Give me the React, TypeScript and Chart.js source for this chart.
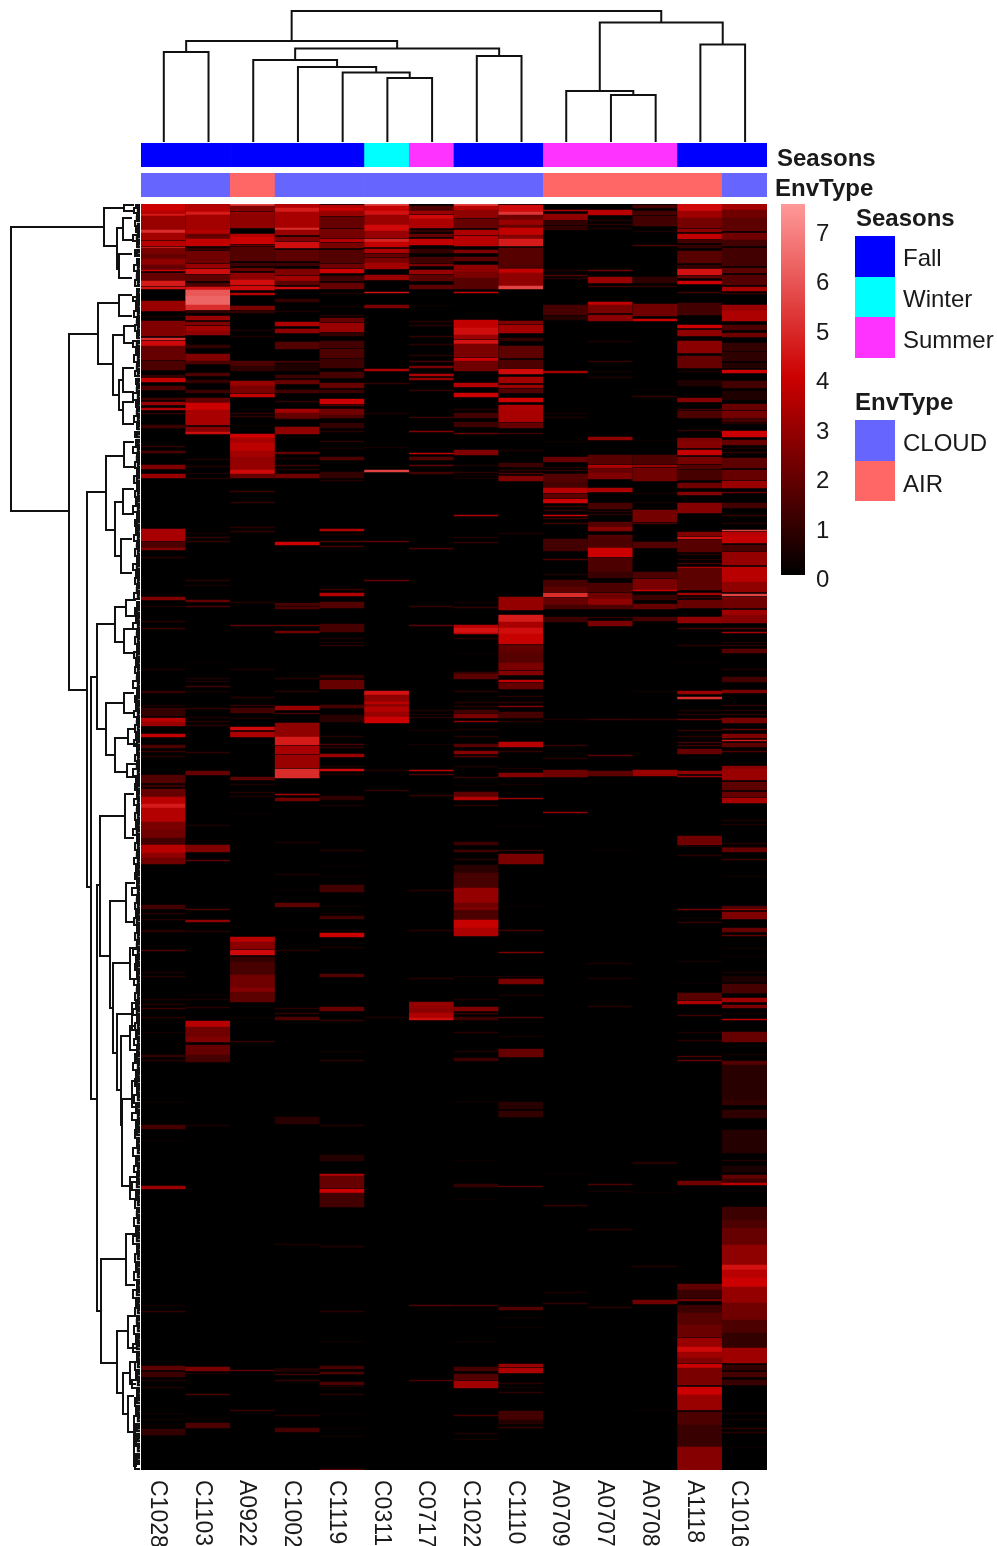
import React, { useEffect, useRef } from "react";
import { Chart, registerables } from "chart.js";
Chart.register(...registerables);

const samples = ["C1028","C1103","A0922","C1002","C1119","C0311","C0717","C1022","C1110","A0709","A0707","A0708","A1118","C1016"];
const seasons = ["Fall","Fall","Fall","Fall","Fall","Winter","Summer","Fall","Fall","Summer","Summer","Summer","Fall","Fall"];
const envTypes = ["CLOUD","CLOUD","AIR","CLOUD","CLOUD","CLOUD","CLOUD","CLOUD","CLOUD","AIR","AIR","AIR","AIR","CLOUD"];
const seasonNames = ["Fall","Winter","Summer"];
const seasonColors = ["#0000ff","#00ffff","#ff33ff"];
const envNames = ["CLOUD","AIR"];
const envColors = ["#6666ff","#ff6666"];
const scaleTicks = [0,1,2,3,4,5,6,7];
const rowCount = 1266;

// each band: [first row, last row, value]
const c1028 = [[0,7,4],[7,10,3.5],[10,12,4.5],[12,26,3],[26,29,5],[29,36,3.2],[37,42,3.6],[43,44,4.8],[44,50,2.4],[50,55,2],[55,61,2.8],[61,66,2],[66,67,4],[69,77,2],[77,82,4.6],[83,85,4.4],[97,107,3],[112,113,0.5],[117,132,2.5],[134,136,5],[137,142,4.2],[142,156,2],[157,166,1.5],[171,173,1],[174,178,3.8],[182,186,1.5],[194,196,1.2],[198,201,3],[204,206,3.5],[209,210,1],[221,224,1.2],[242,243,1],[247,249,1.5],[261,265,2.5],[270,274,3],[325,337,3.3],[338,344,1.5],[344,346,2.5],[353,354,0.8],[393,396,2.5],[402,403,0.6],[417,418,0.8],[424,425,1.2],[465,466,0.5],[487,489,1],[501,502,0.5],[504,512,1],[514,518,3.6],[518,522,3],[530,533,3.8],[541,544,1.5],[547,548,1.2],[552,553,0.7],[571,579,1.6],[581,583,1.2],[585,593,2],[593,600,3.6],[600,604,4.6],[604,618,3.5],[618,626,2.4],[626,634,2.2],[634,641,1.3],[641,649,3.6],[649,654,2.8],[654,660,2.2],[701,705,1.3],[709,710,0.8],[715,716,0.7],[726,728,0.8],[746,747,1.5],[768,769,0.5],[772,773,0.7],[795,796,0.5],[800,801,0.7],[804,805,1.2],[813,814,0.8],[828,829,0.4],[851,853,1],[856,857,0.8],[898,899,0.3],[921,925,1.4],[936,937,0.2],[982,985,3],[1101,1102,0.4],[1107,1108,1],[1162,1166,1.8],[1168,1173,1.2],[1176,1177,0.6],[1183,1184,0.6],[1209,1210,0.3],[1215,1216,0.3],[1221,1222,0.3],[1225,1231,1]];
const c1103 = [[0,5,3.5],[5,8,3.6],[8,11,4.6],[11,26,3.2],[26,30,3.5],[30,35,2],[35,42,3.8],[44,46,1],[47,59,2.2],[60,64,3],[65,70,4.3],[71,77,1.8],[79,83,1.5],[83,86,4.4],[86,92,6],[92,101,6.3],[101,106,5],[107,109,1],[112,116,3],[118,121,2.5],[122,127,3.2],[127,131,2.8],[141,144,1],[150,157,2.5],[157,160,1.5],[169,172,1.5],[176,179,1],[186,189,1.2],[194,199,2],[199,206,4],[206,221,3.3],[223,228,2.6],[228,230,4.3],[255,256,0.6],[262,263,0.7],[269,270,0.5],[274,275,0.7],[329,330,0.4],[333,334,1],[337,338,1],[376,377,0.8],[381,382,0.4],[396,398,2],[402,403,1.5],[458,459,0.2],[474,475,0.6],[477,478,0.6],[482,483,1.3],[487,488,0.4],[504,505,0.9],[513,514,0.6],[517,518,0.8],[521,522,0.8],[548,549,0.9],[567,571,2],[621,622,0.5],[636,637,0.3],[641,648,2.5],[656,657,1.8],[705,706,1.5],[716,718,2.8],[727,728,0.7],[791,792,0.3],[795,796,0.5],[803,804,0.8],[817,823,3.6],[823,833,2.2],[833,838,2.5],[841,851,2],[851,858,1.4],[921,922,0.5],[1124,1125,0.1],[1163,1167,2.4],[1169,1170,0.5],[1190,1191,1.5],[1214,1215,0.3],[1219,1224,1.5]];
const a0922 = [[0,2,5.5],[2,7,2.5],[8,10,3],[10,24,2.8],[30,33,3.5],[33,40,4],[41,42,2],[43,57,1.6],[59,62,1.2],[64,67,2],[69,76,2.8],[76,81,4.3],[82,86,4.2],[89,91,3.5],[102,106,2.4],[107,109,1],[126,127,0.5],[132,133,0.5],[157,162,1.5],[162,167,0.9],[177,182,3],[182,189,2.4],[190,193,3.8],[209,210,1],[212,213,1],[221,222,0.3],[230,234,4],[234,239,3.3],[239,247,3.7],[247,253,3.2],[253,266,2.9],[266,270,4.2],[270,274,2],[287,288,1.2],[298,299,0.9],[323,324,0.8],[327,328,1],[398,399,0.7],[421,422,1.8],[465,466,0.5],[493,494,0.8],[501,502,1],[504,509,1.3],[514,515,0.5],[523,526,4.2],[528,533,3.4],[573,576,1.8],[580,581,0.6],[588,589,0.7],[592,593,0.6],[609,610,0.2],[733,738,3.6],[738,745,2.7],[746,751,4.2],[753,758,1],[758,771,1.4],[771,784,2.2],[784,788,2.6],[788,798,1.8],[813,814,0.3],[837,838,1],[1166,1167,1.8],[1206,1207,1.2]];
const c1002 = [[0,4,3.5],[4,8,4.6],[8,24,3.3],[24,26,5],[26,31,3],[33,37,2.5],[38,44,4.3],[46,57,1.8],[59,62,1.2],[65,71,2.5],[72,77,3.2],[77,81,1.8],[83,85,4.2],[95,98,1],[107,108,0.6],[118,122,3.4],[125,129,2.8],[138,145,1.6],[157,159,1.2],[160,167,0.6],[171,174,1.2],[176,180,2],[186,189,1.3],[197,198,1],[205,209,3.2],[209,214,2],[214,215,1.5],[223,230,2.8],[248,250,2],[254,255,0.6],[261,262,1.2],[265,266,0.7],[270,274,2.2],[338,341,4],[399,402,1.4],[403,405,1.5],[421,422,1.8],[427,429,2.2],[474,475,0.8],[487,488,0.8],[502,506,3],[509,510,1.3],[519,533,2.8],[533,541,4.6],[542,550,3.3],[551,564,3],[565,574,5],[590,591,3.2],[594,597,2.2],[638,639,0.5],[670,671,0.5],[686,687,0.2],[699,703,1.8],[726,727,0.2],[746,747,0.8],[804,805,0.8],[809,810,1],[813,816,1.5],[913,920,0.8],[1040,1041,0.5],[1164,1168,0.6],[1170,1171,1.2],[1176,1177,1],[1211,1212,0.8],[1224,1228,1.4]];
const c1119 = [[1,4,3.5],[4,7,4],[7,12,3],[13,24,2],[25,34,2.3],[35,38,3.6],[39,44,2.4],[46,59,1.6],[60,64,2.2],[65,69,4],[72,77,1.3],[79,85,2],[89,90,0.5],[102,103,0.4],[111,112,0.7],[114,118,2],[119,128,3],[129,132,1],[137,144,1.3],[145,154,1.5],[155,164,1.2],[168,174,1.4],[179,184,2],[186,189,1.2],[195,200,4],[201,202,1.5],[205,211,2.2],[211,214,1.5],[219,224,1],[227,228,0.8],[237,238,0.9],[244,245,0.4],[253,256,1.5],[268,274,1],[276,277,0.7],[325,327,3.5],[330,331,0.5],[337,338,1.5],[342,343,1.3],[385,386,1.2],[389,392,3.5],[398,404,1.6],[420,428,1.4],[434,435,0.6],[438,439,0.5],[441,442,0.8],[471,474,1],[476,485,2],[501,504,1.4],[511,518,0.8],[532,533,0.7],[540,541,1.5],[543,544,1],[550,553,3],[562,563,0.6],[565,567,4.2],[570,571,0.6],[592,596,0.9],[601,602,0.5],[646,647,0.7],[662,663,0.2],[672,673,0.2],[681,688,1.3],[702,703,0.3],[709,710,0.2],[712,715,1.3],[726,727,0.4],[729,733,4],[743,744,0.5],[770,773,1.6],[803,807,2],[816,817,1],[847,848,0.3],[856,857,0.8],[898,899,0.1],[921,922,0.7],[951,957,0.7],[970,972,3.5],[972,984,2],[985,989,4],[989,1003,1.3],[1042,1043,0.7],[1107,1108,0.8],[1137,1138,0.3],[1162,1165,1.4],[1168,1170,1.5],[1178,1181,1.5],[1182,1183,0.5],[1190,1191,0.8],[1209,1210,0.2],[1224,1225,0.2],[1232,1233,0.3],[1265,1266,1.5]];
const c0311 = [[0,2,5.5],[2,7,3.8],[7,11,4.4],[11,21,3],[21,27,4.2],[27,34,3],[35,38,4.8],[38,43,3.8],[45,49,3.4],[50,53,2],[54,59,2.4],[59,65,3.2],[71,76,3],[88,89,4.4],[101,104,2.4],[165,167,3.4],[179,180,1],[209,210,0.6],[243,244,0.4],[266,268,5.5],[337,338,1.8],[376,377,2],[487,491,4.4],[491,498,2.8],[498,500,3.8],[500,503,2.8],[503,508,3.5],[508,513,3],[513,519,4],[566,567,0.7],[586,587,1],[813,814,0.5]];
const c0717 = [[2,7,1.5],[7,10,3],[11,15,4.2],[15,24,3.4],[26,28,1],[30,33,2],[35,41,3.8],[45,49,1],[53,59,1.3],[60,62,2.4],[66,70,3],[71,77,1.8],[81,85,1.8],[101,102,0.3],[117,118,0.8],[121,122,0.8],[132,133,1],[140,141,0.8],[151,152,0.8],[157,158,1.4],[162,164,2.4],[170,172,3.4],[174,176,2.8],[186,187,1],[213,214,1.2],[227,228,2.6],[249,250,3.8],[253,256,1.6],[261,262,2],[268,270,1.3],[344,345,1.5],[402,403,1],[421,422,1.8],[506,507,0.6],[510,511,0.5],[513,514,0.7],[526,527,0.4],[540,541,0.4],[566,567,3.8],[570,571,1.5],[591,592,1],[686,687,0.8],[726,727,0.8],[774,775,0.8],[798,804,2.9],[804,809,2.7],[809,814,3.4],[814,816,4.3],[1101,1102,1.6],[1176,1177,1.4]];
const c1022 = [[0,2,5.5],[2,6,3.6],[6,14,2.8],[15,24,2],[26,31,3.4],[32,42,3.6],[46,49,2.5],[53,57,1.8],[61,68,2.8],[68,74,2.4],[74,85,1.7],[88,89,4],[116,124,3.8],[124,131,4.3],[131,135,3],[136,140,4.4],[140,153,2.4],[154,157,4],[157,167,2.2],[179,183,3.5],[189,193,4],[205,206,0.7],[209,214,1.3],[218,223,1.2],[229,230,2],[246,251,2.5],[261,262,0.5],[268,269,0.8],[271,272,0.4],[274,275,0.4],[311,312,3.4],[333,334,0.6],[338,339,1],[398,399,0.4],[403,404,1],[421,424,3.6],[424,429,4.4],[429,430,3.6],[434,435,0.7],[449,450,0.2],[468,470,1],[470,475,1.8],[487,488,0.8],[498,499,0.8],[502,503,0.8],[506,509,1.3],[510,514,2.4],[517,518,2.8],[525,526,0.5],[532,533,0.8],[540,543,1.6],[547,550,2.6],[552,553,1.6],[562,563,0.5],[573,574,1],[581,582,0.3],[588,593,1.8],[593,596,3.5],[601,602,0.7],[638,641,1.2],[646,648,1.3],[655,656,0.8],[661,669,0.8],[669,684,1.4],[684,699,2.9],[699,704,2.2],[704,706,2.6],[706,716,1.5],[716,724,3.9],[724,732,3.4],[772,773,0.4],[795,796,0.6],[803,807,2.5],[809,810,1.2],[813,816,1.2],[828,829,0.8],[847,848,0.6],[854,857,1.2],[897,898,0.3],[956,957,0.3],[980,983,1],[995,996,0.3],[1101,1102,1.4],[1137,1138,0.3],[1163,1167,1.4],[1170,1176,1.6],[1177,1184,3.2],[1211,1212,1.4],[1229,1230,0.6],[1235,1236,0.4]];
const c1110 = [[1,8,4.2],[8,11,5.2],[11,16,2.2],[16,21,3],[21,24,2],[24,31,3.8],[31,35,2.6],[35,42,4.6],[44,61,1.7],[61,65,1.5],[65,69,3.8],[69,82,2.8],[82,85,5.5],[117,120,2.5],[121,129,3.2],[134,137,1],[142,154,1.8],[156,164,1.5],[165,170,4.2],[173,179,3.2],[181,184,3],[185,189,1.6],[194,198,4],[201,207,3.4],[207,218,3.3],[219,224,2],[229,230,1.2],[246,247,0.6],[259,263,1.2],[266,267,1],[269,270,1.5],[272,277,2.5],[329,330,0.5],[393,406,2.9],[411,418,4.6],[418,424,3.3],[424,430,4.3],[430,440,3.9],[441,449,1.9],[449,459,1.7],[459,466,2.4],[467,471,2.6],[476,478,3.8],[479,485,2],[492,493,0.8],[498,499,1],[502,503,2.6],[508,514,1.4],[517,518,0.8],[538,543,3.6],[547,548,1],[564,565,0.5],[569,573,2.6],[580,581,0.4],[594,595,3],[622,623,0.2],[646,647,1],[650,660,2.4],[702,703,0.2],[726,727,1.3],[748,749,2.4],[772,773,0.6],[775,780,2.4],[791,792,0.5],[813,814,1.5],[832,833,0.4],[845,853,2],[898,905,0.8],[907,913,1],[982,983,1.6],[1103,1106,1.6],[1113,1114,0.3],[1123,1124,0.3],[1160,1163,3],[1164,1169,3.4],[1179,1180,0.8],[1183,1184,0.4],[1188,1189,0.9],[1207,1216,1.3],[1216,1220,0.7],[1223,1224,1]];
const a0709 = [[6,7,3.5],[10,16,2.8],[17,21,1],[22,26,1],[66,67,0.7],[71,72,1.6],[74,75,0.8],[101,111,1.4],[112,116,0.7],[167,169,3.2],[209,210,0.4],[213,214,0.5],[237,238,0.3],[253,258,2],[263,264,0.7],[266,267,1],[270,278,1.6],[278,284,1.4],[284,289,3.6],[290,294,1.8],[295,299,4],[302,303,1],[306,307,1],[311,312,4],[314,315,1.2],[319,320,1.2],[335,347,1.3],[355,356,1.5],[370,371,0.6],[376,383,1.4],[383,388,1.8],[389,393,5],[394,401,2],[401,405,1.4],[413,418,1.2],[515,516,0.6],[541,542,1],[554,555,0.8],[566,573,2.2],[608,609,3],[969,970,0.2],[1001,1002,1],[1088,1089,0.5],[1099,1100,1]];
const a0707 = [[6,11,3.6],[16,17,0.7],[20,21,0.8],[24,25,0.6],[66,67,2.2],[73,79,3],[82,83,1.2],[98,101,3.8],[101,109,2.4],[111,117,2.7],[137,138,0.5],[157,158,1],[167,168,0.3],[173,174,0.6],[233,236,2.8],[251,260,1.7],[261,264,3.4],[264,269,2],[269,275,2.5],[284,288,3.4],[299,305,1.4],[307,308,0.8],[310,311,0.8],[318,323,1.6],[323,327,2.6],[331,334,1.6],[334,344,1.5],[344,353,4],[354,368,1.5],[368,374,1.1],[379,388,1.5],[389,395,2.2],[395,401,2.8],[401,405,1.5],[413,414,0.9],[417,422,2.4],[515,516,1.1],[551,552,1.8],[567,572,1.8],[646,647,0.2],[759,760,0.5],[774,775,0.5],[802,803,0.8],[980,981,1.5],[987,988,0.4],[1025,1026,0.8],[1103,1104,0.8]];
const a0708 = [[1,4,1.3],[7,11,1.3],[12,22,1.3],[27,28,0.5],[41,42,1.5],[73,79,0.9],[82,83,1],[100,112,2.2],[115,117,4],[185,186,0.2],[192,193,1],[236,237,0.3],[251,260,1.5],[261,263,3],[264,277,2.2],[289,290,0.4],[298,299,0.4],[306,318,2.3],[319,320,1.3],[338,344,1.6],[368,374,1.5],[375,386,2.4],[386,387,3.8],[391,396,1.2],[400,405,2],[413,417,1.4],[487,488,0.3],[515,516,1],[566,572,3],[958,960,0.7],[988,989,0.3],[1062,1063,0.7],[1096,1100,2.2],[1206,1207,0.2]];
const a1118 = [[0,7,4.2],[7,14,3.1],[14,24,2.3],[25,28,2.7],[30,35,3.8],[36,39,1.3],[41,44,1],[47,59,1.7],[61,64,1],[65,71,4.4],[72,74,2],[77,80,4],[88,89,1.3],[99,111,1.3],[121,124,4],[126,132,2.8],[137,149,2.7],[152,164,2],[167,168,0.5],[176,182,0.6],[194,198,2.6],[205,206,1.3],[207,214,1.5],[226,227,1],[234,237,2.4],[237,244,2.6],[246,251,3.9],[253,260,2.3],[261,265,1.6],[266,276,1.4],[279,284,2.2],[288,291,2.6],[299,309,2.6],[328,332,2.5],[333,335,4.4],[336,348,1.7],[350,351,0.8],[355,356,0.8],[359,360,1.3],[363,364,3.8],[364,386,1.8],[389,391,3.2],[393,394,1.2],[396,404,2],[413,419,2.8],[424,425,1.3],[441,442,0.8],[458,459,0.2],[487,490,3],[493,495,5],[506,507,0.6],[510,511,0.7],[515,516,2],[526,527,1],[532,533,0.8],[538,539,1.4],[541,542,1.2],[545,550,2],[567,570,2.8],[572,573,3],[632,641,2.2],[642,643,0.4],[651,652,0.8],[705,706,2.2],[714,715,0.3],[718,719,1],[757,758,0.4],[779,780,0.2],[789,796,1.7],[797,800,3.4],[811,812,1.2],[828,829,0.6],[836,837,0.8],[852,853,1.4],[856,857,2],[977,981,2.2],[1080,1086,1.9],[1086,1094,1.1],[1095,1097,2.2],[1101,1109,1.2],[1109,1121,1.7],[1121,1133,2.1],[1134,1143,3],[1143,1148,4.2],[1148,1154,3.1],[1154,1159,2.5],[1160,1164,4],[1164,1181,2.4],[1183,1191,4],[1191,1206,3],[1208,1221,1.5],[1221,1243,1.1],[1243,1266,2.6]];
const c1016 = [[0,6,3.2],[6,14,2.2],[14,27,1.8],[29,36,2.2],[36,42,1.3],[44,62,1.3],[64,69,1.8],[71,81,1.6],[83,87,3.3],[89,90,1],[101,107,3],[107,117,3.4],[121,126,1.5],[129,133,2.2],[139,147,1],[148,157,0.9],[159,164,0.7],[166,169,4],[177,184,1.3],[187,196,0.6],[200,206,2],[207,214,2.3],[214,218,1.3],[219,220,0.8],[227,233,4],[236,241,2],[244,245,0.5],[248,249,1],[254,264,1.8],[266,276,2],[277,284,3],[288,289,2],[299,304,1.3],[311,312,1],[319,320,0.7],[326,327,5.5],[328,332,3.6],[332,339,3.8],[341,347,1.4],[348,361,2.9],[363,378,3.6],[378,388,2.8],[390,392,5.5],[393,404,2.2],[406,411,3.1],[411,419,2.6],[424,425,1.6],[428,429,3.3],[438,439,0.6],[441,442,0.8],[445,449,1.7],[465,466,0.6],[473,478,1.3],[486,489,2.4],[501,502,0.9],[506,507,0.7],[510,511,0.8],[514,519,2.3],[525,526,2],[530,534,2.5],[536,537,4.6],[539,543,1.8],[547,548,1.5],[562,565,2.6],[565,576,3],[578,586,1.8],[588,593,2],[594,599,3.3],[616,617,0.6],[620,621,0.6],[639,640,0.7],[643,644,1],[644,648,2],[655,656,1.2],[672,673,0.3],[702,705,1.5],[705,706,3],[708,715,2.5],[724,728,2],[731,732,1.8],[744,745,0.3],[752,753,0.2],[768,769,0.5],[772,778,0.5],[780,789,1.4],[794,798,3.1],[801,804,2.4],[809,810,0.4],[815,816,3.6],[828,838,2],[850,851,0.4],[857,861,1.6],[861,896,0.8],[896,901,1],[906,914,0.9],[926,949,0.7],[956,957,0.7],[962,968,0.5],[971,975,1.9],[975,979,1.2],[979,981,3.6],[987,988,0.2],[1003,1016,1.2],[1016,1024,1.5],[1024,1041,2],[1041,1061,2.8],[1061,1066,4.4],[1066,1074,3.6],[1074,1083,4],[1083,1099,2.9],[1099,1116,2.2],[1116,1129,1.5],[1129,1144,1],[1144,1159,3.1],[1161,1166,1],[1168,1173,1.4],[1176,1181,1.1],[1209,1210,0.5],[1215,1216,0.4],[1224,1225,0.8],[1228,1229,0.8],[1243,1244,0.2]];
const columns = [c1028,c1103,a0922,c1002,c1119,c0311,c0717,c1022,c1110,a0709,a0707,a0708,a1118,c1016];

// column tree: [left, right, height]; negative = sample index - 1, positive = earlier merge number (1-based)
const colTree = [[-1,-2,90],[-6,-7,64],[-5,2,69.5],[-4,3,75],[-3,4,82],[-8,-9,86],[5,6,93.5],[1,7,101],[-11,-12,47],[-10,9,51],[-13,-14,97.5],[10,11,119.5],[8,12,131]];

// row tree: [top row, top height, bottom row, bottom height, merge height]
const rowTree = [[23,36,307,71,129],[4,16,42,23,36],[1,6,7,6,16],[24,17,65,21,23],[14,8,36,8,17],[50,8,74,8,21],[130,42,486,53,71],[99,21,160,27,42],[91,8,112,8,21],[131,16,191,21,27],[122,6,139,6,16],[176,17,206,17,21],[164,6,188,6,17],[198,6,220,6,17],[288,34,683,49,53],[252,16,326,25,34],[238,6,263,6,16],[298,17,352,19,25],[285,6,310,6,17],[335,8,369,8,19],[473,43,895,43,49],[420,25,525,34,43],[403,14,438,16,25],[396,4,412,4,14],[425,6,449,6,16],[499,16,551,25,34],[489,6,509,6,16],[534,12,568,13,25],[525,4,540,4,12],[560,4,573,4,13],[681,40,1107,39,43],[612,15,752,30,40],[590,6,634,6,15],[697,14,804,27,30],[679,5,718,5,14],[759,10,849,23,27],[744,4,775,4,10],[810,8,886,19,23],[799,4,826,4,8],[832,10,921,18,19],[895,8,982,10,18],[822,4,846,4,10],[877,4,903,4,8],[973,4,995,4,10],[1055,14,1159,23,39],[1030,5,1081,5,14],[1127,12,1189,17,23],[1112,4,1144,4,12],[1169,10,1210,12,17],[1158,4,1180,4,10],[1192,6,1228,6,12],[1220,3,1262,3,6]];
// small branches next to the cells: [top row, bottom row, height]
const rowTwigs = [[0,4,4],[4,9,6],[11,15,3],[17,22,5],[24,28,4],[31,37,7],[38,43,3],[46,52,5],[55,59,3],[61,67,6],[69,73,3],[76,82,5],[85,91,3],[93,97,7],[99,105,4],[107,113,6],[115,119,3],[121,127,5],[129,134,3],[137,143,7],[145,149,4],[151,158,6],[160,165,3],[167,172,5],[175,180,4],[182,187,3],[189,196,7],[198,203,4],[205,210,3],[212,218,6],[220,225,3],[228,233,5],[236,241,4],[243,249,7],[251,255,3],[258,264,5],[266,270,3],[272,279,6],[281,285,3],[287,293,5],[295,300,4],[302,308,7],[310,314,3],[316,322,5],[324,329,4],[331,337,6],[339,343,3],[345,352,5],[354,358,3],[360,366,7],[368,372,4],[374,380,5],[382,387,3],[389,395,6],[398,402,3],[404,410,5],[412,417,4],[419,425,7],[427,431,3],[433,440,5],[442,446,3],[448,454,6],[456,461,4],[463,469,5],[471,475,3],[477,484,7],[486,490,3],[492,498,5],[500,505,4],[507,513,6],[515,519,3],[521,528,5],[530,534,4],[536,542,6],[544,549,3],[551,557,5],[559,563,3],[565,572,7],[574,578,4],[580,586,5],[588,593,3],[595,601,6],[603,607,3],[609,616,5],[618,623,4],[625,631,7],[633,637,3],[639,646,5],[648,652,3],[654,660,6],[662,667,4],[669,675,5],[677,682,3],[684,691,8],[693,697,3],[699,705,5],[707,712,4],[714,721,6],[723,727,3],[729,736,5],[738,743,3],[745,751,7],[753,758,4],[760,766,5],[768,773,3],[775,781,6],[783,787,3],[789,796,5],[798,803,4],[805,811,7],[813,817,3],[819,826,5],[828,833,4],[835,841,6],[843,848,3],[850,857,5],[859,866,7],[868,873,4],[875,882,5],[884,889,3],[891,899,6],[901,907,4],[909,916,8],[918,924,4],[926,934,5],[936,942,3],[944,952,7],[954,960,4],[962,968,6],[970,976,3],[978,986,8],[988,994,4],[996,1004,5],[1006,1012,3],[1014,1022,6],[1024,1030,4],[1032,1040,7],[1042,1048,3],[1050,1058,5],[1060,1066,4],[1068,1076,6],[1078,1084,3],[1086,1094,7],[1096,1102,4],[1104,1112,5],[1114,1120,3],[1122,1130,6],[1132,1138,4],[1140,1148,7],[1150,1156,3],[1158,1166,5],[1168,1174,4],[1176,1184,8],[1186,1192,3],[1194,1202,5],[1204,1210,4],[1212,1220,6],[1222,1230,5],[1232,1240,4],[1242,1250,6],[1252,1258,4],[1260,1265,5]];
// leaf pairs touching the cells: [top row, bottom row, height]
const rowLeaves = [[2,5,2],[7,10,2],[13,16,3],[20,23,2],[26,29,2],[33,36,3],[40,43,2],[48,51,3],[57,60,2],[63,66,2],[71,74,3],[78,81,2],[87,90,2],[95,98,3],[101,104,2],[109,112,2],[117,120,3],[123,126,2],[131,134,2],[139,142,3],[147,150,2],[153,156,2],[162,165,3],[169,172,2],[177,180,2],[184,187,3],[191,194,2],[200,203,2],[207,210,3],[214,217,2],[222,225,2],[230,233,3],[238,241,2],[245,248,2],[253,256,3],[260,263,2],[268,271,2],[274,277,3],[283,286,2],[289,292,2],[297,300,3],[304,307,2],[312,315,2],[318,321,3],[326,329,2],[333,336,2],[341,344,3],[347,350,2],[356,359,2],[362,365,3],[370,373,2],[376,379,2],[384,387,3],[391,394,2],[400,403,2],[406,409,3],[414,417,2],[421,424,2],[429,432,3],[435,438,2],[444,447,2],[450,453,3],[458,461,2],[465,468,2],[473,476,3],[479,482,2],[488,491,2],[494,497,3],[502,505,2],[509,512,2],[517,520,3],[523,526,2],[532,535,2],[538,541,3],[546,549,2],[553,556,2],[561,564,3],[567,570,2],[576,579,2],[582,585,3],[590,593,2],[597,600,2],[605,608,3],[611,614,2],[620,623,2],[627,630,3],[635,638,2],[641,644,2],[650,653,3],[656,659,2],[664,667,2],[671,674,3],[679,682,2],[686,689,2],[695,698,3],[701,704,2],[709,712,2],[716,719,3],[725,728,2],[731,734,2],[740,743,3],[747,750,2],[755,758,2],[762,765,3],[770,773,2],[777,780,2],[785,788,3],[791,794,2],[800,803,2],[807,810,3],[815,818,2],[821,824,2],[830,833,3],[837,840,2],[845,848,2],[852,855,3],[861,864,2],[870,873,2],[877,880,3],[886,889,2],[893,896,2],[903,906,3],[911,914,2],[920,923,2],[928,931,3],[938,941,2],[946,949,2],[956,959,3],[964,967,2],[972,975,2],[980,983,3],[990,993,2],[998,1001,2],[1008,1011,3],[1016,1019,2],[1026,1029,2],[1034,1037,3],[1044,1047,2],[1052,1055,2],[1062,1065,3],[1070,1073,2],[1080,1083,2],[1088,1091,3],[1098,1101,2],[1106,1109,2],[1116,1119,3],[1124,1127,2],[1134,1137,2],[1142,1145,3],[1152,1155,2],[1160,1163,2],[1170,1173,3],[1178,1181,2],[1188,1191,2],[1196,1199,3],[1206,1209,2],[1214,1217,2],[1224,1227,3],[1234,1237,2],[1244,1247,2],[1254,1257,3]];

function heatColor(v: number) {
  if (v <= 4) return `rgb(${Math.round(51 * v)},0,0)`;
  const t = Math.min(1, (v - 4) / 3.5);
  return `rgb(${Math.round(204 + 51 * t)},${Math.round(153 * t)},${Math.round(153 * t)})`;
}

const FONT = '"Liberation Sans", Arial, sans-serif';
const base: any = {
  responsive: false,
  maintainAspectRatio: false,
  animation: false,
  events: [],
  layout: { padding: 0 },
  plugins: { legend: { display: false }, tooltip: { enabled: false } },
};
const hidden = { display: false };

function treePoints(rows: number[][]) {
  const pts: any[] = [];
  rows.forEach(([r1, h1, r2, h2, hm]) => {
    pts.push({ x: h1, y: r1 }, { x: hm, y: r1 }, { x: hm, y: r2 }, { x: h2, y: r2 }, { x: NaN, y: NaN });
  });
  return pts;
}

function colTreePoints() {
  const pos: number[] = [];
  const hts: number[] = [];
  const pts: any[] = [];
  const read = (n: number) => (n < 0 ? [-n - 1, 0] : [pos[n - 1], hts[n - 1]]);
  colTree.forEach(([a, b, h]) => {
    const [xa, ha] = read(a);
    const [xb, hb] = read(b);
    pts.push({ x: xa, y: ha }, { x: xa, y: h }, { x: xb, y: h }, { x: xb, y: hb }, { x: NaN, y: NaN });
    pos.push((xa + xb) / 2);
    hts.push(h);
  });
  return pts;
}

const line = (data: any[], w = 2) => ({ data, showLine: true, spanGaps: false, pointRadius: 0, borderColor: "#111", borderWidth: w, borderJoinStyle: "miter" as const });

function rect(x: number, y: number, w: number, h: number): React.CSSProperties {
  return { position: "absolute", left: x, top: y, width: w, height: h };
}

function Label({ x, y, text, bold }: { x: number; y: number; text: string; bold?: boolean }) {
  return (
    <div style={{ position: "absolute", left: x, top: y - 14, height: 28, lineHeight: "28px", font: `${bold ? "bold " : ""}24px ${FONT}`, color: "#1a1a1a", whiteSpace: "nowrap", filter: "blur(0.35px)" }}>
      {text}
    </div>
  );
}

export default function App() {
  const heat = useRef<HTMLCanvasElement>(null);
  const top = useRef<HTMLCanvasElement>(null);
  const left = useRef<HTMLCanvasElement>(null);
  const seasonBar = useRef<HTMLCanvasElement>(null);
  const envBar = useRef<HTMLCanvasElement>(null);
  const scaleBar = useRef<HTMLCanvasElement>(null);

  useEffect(() => {
    const charts: Chart[] = [];
    const cells = columns.flatMap((bands, i) => [[0, rowCount, 0], ...bands].map((b) => ({ x: samples[i], y: [b[0], b[1]], v: b[2] })));
    charts.push(new Chart(heat.current!, {
      type: "bar",
      data: { labels: samples, datasets: [{ data: cells as any, backgroundColor: cells.map((c) => heatColor(c.v)), barPercentage: 1, categoryPercentage: 1, borderWidth: 0 }] },
      options: {
        ...base,
        scales: {
          x: { grid: hidden, border: hidden, ticks: { display: false }, afterFit: (s: any) => { s.height = 76; } },
          y: { display: false, min: 0, max: rowCount, reverse: true },
        },
      },
      plugins: [{
        id: "sampleLabels",
        afterDraw(chart: any) {
          const { ctx, scales, chartArea } = chart;
          ctx.save();
          ctx.font = `23px ${FONT}`;
          ctx.fillStyle = "#1a1a1a";
          ctx.textAlign = "left";
          ctx.textBaseline = "middle";
          samples.forEach((s, i) => {
            ctx.save();
            ctx.translate(scales.x.getPixelForTick(i) - 6, chartArea.bottom + 10);
            ctx.rotate(Math.PI / 2);
            ctx.fillText(s, 0, 0);
            ctx.restore();
          });
          ctx.restore();
        },
      }],
    } as any));

    charts.push(new Chart(top.current!, {
      type: "scatter",
      data: { datasets: [line(colTreePoints())] as any },
      options: { ...base, scales: { x: { display: false, min: -0.51, max: 13.49 }, y: { display: false, min: 0, max: 142 } } },
    } as any));

    const twigRows = rowTwigs.map(([a, b, h]) => [a, 0, b, 0, h]);
    const leafRows = rowLeaves.map(([a, b, h]) => [a, 0, b, 0, h]);
    charts.push(new Chart(left.current!, {
      type: "scatter",
      data: { datasets: [line(treePoints(rowTree)), line(treePoints(twigRows), 2), line(treePoints(leafRows), 2.4)] as any },
      options: { ...base, scales: { x: { display: false, min: 0, max: 140, reverse: true }, y: { display: false, min: 0, max: rowCount, reverse: true } } },
    } as any));

    const annot = (el: HTMLCanvasElement, colors: string[]) => new Chart(el, {
      type: "bar",
      data: { labels: samples, datasets: [{ data: samples.map((s) => ({ x: s, y: [0, 1] })) as any, backgroundColor: colors, barPercentage: 1, categoryPercentage: 1, borderWidth: 0 }] },
      options: { ...base, scales: { x: { display: false }, y: { display: false, min: 0, max: 1 } } },
    } as any);
    charts.push(annot(seasonBar.current!, seasons.map((s) => seasonColors[seasonNames.indexOf(s)])));
    charts.push(annot(envBar.current!, envTypes.map((s) => envColors[envNames.indexOf(s)])));

    charts.push(new Chart(scaleBar.current!, {
      type: "bar",
      data: {
        labels: ["value"],
        datasets: [{
          data: [{ x: "value", y: [0, 7.5] }] as any,
          backgroundColor: (c: any) => {
            const { ctx, chartArea } = c.chart;
            if (!chartArea) return "#000";
            const g = ctx.createLinearGradient(0, chartArea.bottom, 0, chartArea.top);
            g.addColorStop(0, heatColor(0));
            g.addColorStop(4 / 7.5, heatColor(4));
            g.addColorStop(1, heatColor(7.5));
            return g;
          },
          barPercentage: 1, categoryPercentage: 1, borderWidth: 0,
        }],
      },
      options: {
        ...base,
        layout: { padding: { bottom: 20 } },
        scales: {
          x: { display: false },
          y: { position: "right", min: 0, max: 7.5, afterBuildTicks: (s: any) => { s.ticks = scaleTicks.map((value) => ({ value })); }, grid: hidden, border: hidden, ticks: { display: false }, afterFit: (s: any) => { s.width = 36; } },
        },
      },
      plugins: [{
        id: "scaleLabels",
        afterDraw(chart: any) {
          const { ctx, scales } = chart;
          ctx.save();
          ctx.font = `24px ${FONT}`;
          ctx.fillStyle = "#1a1a1a";
          ctx.textAlign = "left";
          ctx.textBaseline = "middle";
          scaleTicks.forEach((t) => ctx.fillText(String(t), 35, scales.y.getPixelForValue(t) + 5.5));
          ctx.restore();
        },
      }],
    } as any));
    return () => charts.forEach((c) => c.destroy());
  }, []);

  const soft = "blur(0.45px)";
  return (
    <div style={{ position: "absolute", left: 0, top: 0, width: 997, height: 1546, overflow: "hidden", background: "#fff" }}>
      <div style={{ ...rect(141, 204, 626, 1266), background: "#000" }} />
      <canvas ref={heat} width={626} height={1342} style={{ ...rect(141, 204, 626, 1342), filter: soft }} />
      <canvas ref={top} width={626} height={142} style={{ ...rect(141, 0, 626, 142), filter: soft }} />
      <canvas ref={left} width={140} height={1266} style={{ ...rect(0, 204, 140, 1266), filter: soft }} />
      <canvas ref={seasonBar} width={626} height={24} style={{ ...rect(141, 143, 626, 24), filter: soft }} />
      <canvas ref={envBar} width={626} height={24} style={{ ...rect(141, 173, 626, 24), filter: soft }} />
      <canvas ref={scaleBar} width={60} height={391} style={{ ...rect(781, 204, 60, 391), filter: soft }} />
      <Label x={777} y={158} text="Seasons" bold />
      <Label x={775} y={188} text="EnvType" bold />
      <Label x={856} y={218} text="Seasons" bold />
      {seasonNames.map((n, i) => (
        <React.Fragment key={n}>
          <div style={{ ...rect(855, 236 + i * 40.7, 40, 40.7), background: seasonColors[i] }} />
          <Label x={903} y={258 + i * 41} text={n} />
        </React.Fragment>
      ))}
      <Label x={855} y={402} text="EnvType" bold />
      {envNames.map((n, i) => (
        <React.Fragment key={n}>
          <div style={{ ...rect(855, 420 + i * 40.7, 40, 40.7), background: envColors[i] }} />
          <Label x={903} y={442.5 + i * 41} text={n} />
        </React.Fragment>
      ))}
    </div>
  );
}
